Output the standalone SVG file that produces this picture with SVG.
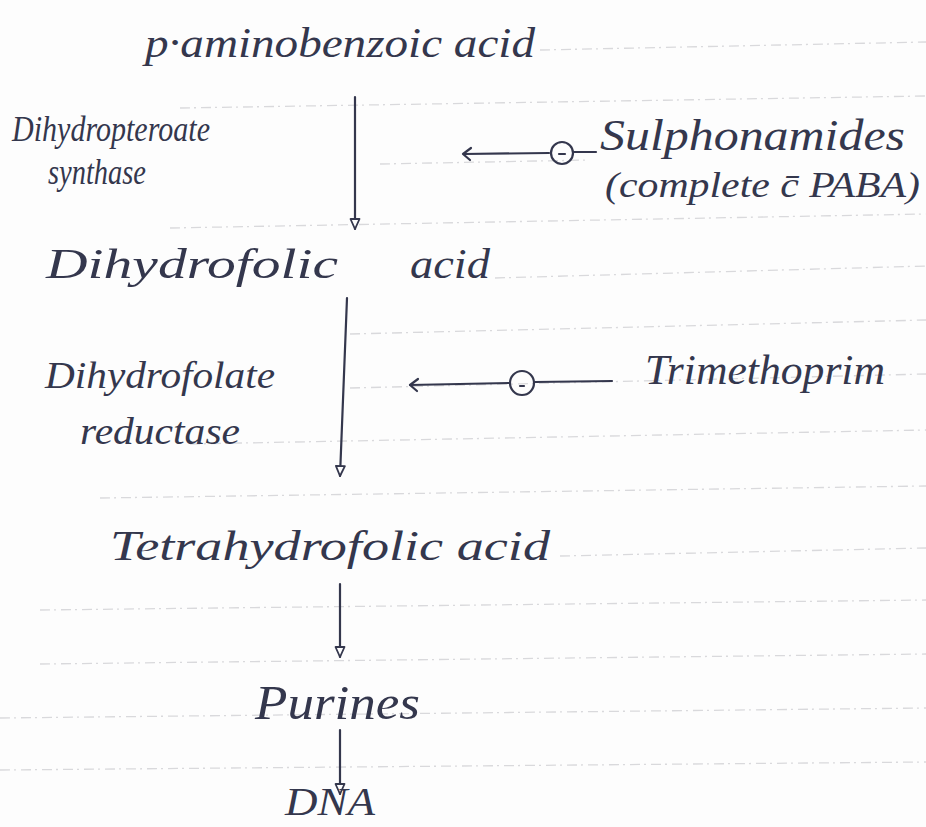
<svg xmlns="http://www.w3.org/2000/svg" width="926" height="827" viewBox="0 0 926 827">
  <style>
    .ink { font-family: "Liberation Serif", "DejaVu Serif", serif; font-style: italic; fill: #34374d; }
    .rule { stroke: #d9d9dc; stroke-width: 1.3; stroke-dasharray: 10 4 2 5; fill: none; }
    .line { stroke: #34374d; stroke-width: 2.2; fill: none; stroke-linecap: round; stroke-linejoin: round; }
  </style>
  <defs>
    <!-- small open triangular head, drawn pointing along +x -->
    <marker id="head" viewBox="0 0 14 12" refX="12" refY="6" markerWidth="14" markerHeight="12" markerUnits="userSpaceOnUse" orient="auto">
      <path d="M2,1.5 L12,6 L2,10.5 Z" fill="#fdfdfd" stroke="#34374d" stroke-width="1.8" stroke-linejoin="round"/>
    </marker>
  </defs>

  <!-- paper -->
  <rect width="926" height="827" fill="#fdfdfd"/>
  <g id="ruling">
    <path class="rule" d="M540,50 L926,42"/>
    <path class="rule" d="M180,108 L926,96"/>
    <path class="rule" d="M380,164 L590,160"/>
    <path class="rule" d="M170,228 L926,214"/>
    <path class="rule" d="M495,278 L926,266"/>
    <path class="rule" d="M350,334 L926,320"/>
    <path class="rule" d="M350,388 L926,374"/>
    <path class="rule" d="M190,444 L926,430"/>
    <path class="rule" d="M100,498 L926,486"/>
    <path class="rule" d="M560,556 L926,548"/>
    <path class="rule" d="M40,610 L926,600"/>
    <path class="rule" d="M40,664 L926,654"/>
    <path class="rule" d="M0,718 L926,708"/>
    <path class="rule" d="M0,770 L926,762"/>
  </g>

  <!-- pathway connectors -->
  <g id="connectors">
    <path class="line" d="M355,97 L355,229" marker-end="url(#head)"/>
    <path class="line" d="M347,298 L340,476" marker-end="url(#head)"/>
    <path class="line" d="M340,584 L340,657" marker-end="url(#head)"/>
    <path class="line" d="M340,730 L340,794" marker-end="url(#head)"/>
    <!-- sulphonamide inhibition -->
    <path class="line" d="M549,153 L464,154"/>
    <path class="line" d="M471,148 L463,154 L470,160"/>
    <circle class="line" cx="562" cy="153" r="11"/>
    <path class="line" d="M559,154 L565,154"/>
    <path class="line" d="M574,152 L596,152"/>
    <!-- trimethoprim inhibition -->
    <path class="line" d="M509,383 L410,385"/>
    <path class="line" d="M418,379 L410,385 L417,391"/>
    <circle class="line" cx="522" cy="383" r="12"/>
    <path class="line" d="M520,386 L524,386"/>
    <path class="line" d="M535,382 L612,381"/>
  </g>

  <g id="paba">
    <text class="ink" x="145" y="57" font-size="42" textLength="390" lengthAdjust="spacingAndGlyphs">p·aminobenzoic acid</text>
  </g>
  <g id="dhps">
    <text class="ink" x="12" y="141" font-size="36" textLength="198" lengthAdjust="spacingAndGlyphs">Dihydropteroate</text>
    <text class="ink" x="48" y="184" font-size="36" textLength="98" lengthAdjust="spacingAndGlyphs">synthase</text>
  </g>
  <g id="sulphonamides">
    <text class="ink" x="600" y="150" font-size="44" textLength="305" lengthAdjust="spacingAndGlyphs">Sulphonamides</text>
    <text class="ink" x="605" y="197" font-size="36" textLength="315" lengthAdjust="spacingAndGlyphs">(complete c̄ PABA)</text>
  </g>
  <g id="dhf">
    <text class="ink" x="46" y="278" font-size="42" textLength="292" lengthAdjust="spacingAndGlyphs">Dihydrofolic</text>
    <text class="ink" x="410" y="278" font-size="42" textLength="80" lengthAdjust="spacingAndGlyphs">acid</text>
  </g>
  <g id="dhfr">
    <text class="ink" x="45" y="388" font-size="38" textLength="230" lengthAdjust="spacingAndGlyphs">Dihydrofolate</text>
    <text class="ink" x="80" y="444" font-size="38" textLength="160" lengthAdjust="spacingAndGlyphs">reductase</text>
  </g>
  <g id="trimethoprim">
    <text class="ink" x="645" y="384" font-size="42" textLength="240" lengthAdjust="spacingAndGlyphs">Trimethoprim</text>
  </g>
  <g id="thf">
    <text class="ink" x="110" y="560" font-size="42" textLength="440" lengthAdjust="spacingAndGlyphs">Tetrahydrofolic acid</text>
  </g>
  <g id="purines">
    <text class="ink" x="255" y="719" font-size="48" textLength="165" lengthAdjust="spacingAndGlyphs">Purines</text>
  </g>
  <g id="dna">
    <text class="ink" x="285" y="815" font-size="40" textLength="90" lengthAdjust="spacingAndGlyphs">DNA</text>
  </g>
</svg>
